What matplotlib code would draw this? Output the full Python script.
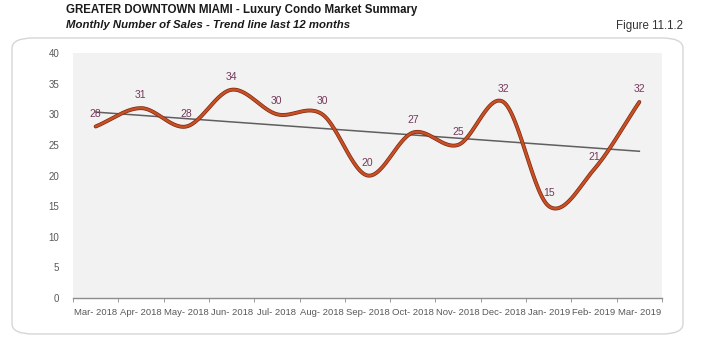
import numpy as np
import matplotlib.pyplot as plt
import matplotlib.patheffects as pe
from matplotlib.patches import FancyBboxPatch

plt.rcParams['font.family'] = ['Liberation Sans Narrow', 'Liberation Sans', 'DejaVu Sans']

months = ["Mar- 2018", "Apr- 2018", "May- 2018", "Jun- 2018", "Jul- 2018", "Aug- 2018",
          "Sep- 2018", "Oct- 2018", "Nov- 2018", "Dec- 2018", "Jan- 2019", "Feb- 2019", "Mar- 2019"]
sales = [28, 31, 28, 34, 30, 30, 20, 27, 25, 32, 15, 21, 32]
y_ticks = [0, 5, 10, 15, 20, 25, 30, 35, 40]


def catmull_rom(x, y, n=30):
    # smooth curve through the points, similar to Excel's smoothed line
    px = np.concatenate([[2 * x[0] - x[1]], x, [2 * x[-1] - x[-2]]])
    py = np.concatenate([[2 * y[0] - y[1]], y, [2 * y[-1] - y[-2]]])
    xs, ys = [], []
    t = np.linspace(0, 1, n, endpoint=False)
    for i in range(1, len(px) - 2):
        for p, out in ((px, xs), (py, ys)):
            p0, p1, p2, p3 = p[i - 1], p[i], p[i + 1], p[i + 2]
            out.extend(0.5 * (2 * p1 + (-p0 + p2) * t + (2 * p0 - 5 * p1 + 4 * p2 - p3) * t ** 2
                              + (-p0 + 3 * p1 - 3 * p2 + p3) * t ** 3))
    xs.append(x[-1])
    ys.append(y[-1])
    return np.array(xs), np.array(ys)


x = np.arange(len(sales), dtype=float)
y = np.array(sales, dtype=float)

fig = plt.figure(figsize=(7.01, 3.46), dpi=100)

# rounded frame around the chart
frame = FancyBboxPatch((12 / 701, 12 / 346), 671 / 701, 296 / 346,
                       boxstyle="round,pad=0,rounding_size=0.03",
                       transform=fig.transFigure, facecolor='white',
                       edgecolor='#d6d6d6', linewidth=1.0, zorder=0)
fig.patches.append(frame)

fig.text(66 / 701, 1 - 4 / 346, "GREATER DOWNTOWN MIAMI - Luxury Condo Market Summary",
         fontsize=8.3, fontweight='bold', va='top', ha='left', color='#1a1a1a')
fig.text(66 / 701, 1 - 20 / 346, "Monthly Number of Sales - Trend line last 12 months",
         fontsize=8.2, fontweight='bold', style='italic', va='top', ha='left', color='#1a1a1a')
fig.text(683 / 701, 1 - 20 / 346, "Figure 11.1.2",
         fontsize=8.3, va='top', ha='right', color='#333333')

ax = fig.add_axes([73 / 701, 48 / 346, 589 / 701, 245 / 346])
ax.set_zorder(2)
ax.set_facecolor('#f2f2f2')

sx, sy = catmull_rom(x, y)
ax.plot(sx, sy, color='#c94f24', linewidth=1.8, solid_capstyle='round',
        path_effects=[pe.Stroke(linewidth=2.8, foreground='#7a2a12'), pe.Normal()], zorder=3)

# linear trend line
slope, intercept = np.polyfit(x, y, 1)
ax.plot(x, slope * x + intercept, color='#5f5f5f', linewidth=1.1, zorder=2)

for xi, v in zip(x, sales):
    ax.text(xi, v + 2.1, str(v), ha='center', va='center', fontsize=7.5,
            color='#73385a', family=['Liberation Sans', 'DejaVu Sans'], zorder=4)

ax.set_xlim(-0.5, len(sales) - 0.5)
ax.set_ylim(0, 40)
ax.set_yticks(y_ticks)
ax.set_xticks(x)
ax.set_xticklabels(months)
ax.set_xticks(np.arange(-0.5, len(sales)), minor=True)
ax.tick_params(axis='x', which='major', length=0, labelsize=6.8, labelcolor='#595959', pad=7)
ax.tick_params(axis='x', which='minor', length=3, color='#8c8c8c', direction='out')
ax.tick_params(axis='y', length=0, labelsize=7, labelcolor='#595959', pad=10)
for lab in ax.get_xticklabels() + ax.get_yticklabels():
    lab.set_family(['Liberation Sans', 'DejaVu Sans'])

for s in ['top', 'right', 'left']:
    ax.spines[s].set_visible(False)
ax.spines['bottom'].set_color('#8c8c8c')
ax.spines['bottom'].set_linewidth(1.0)

plt.savefig("out.png", dpi=100)
